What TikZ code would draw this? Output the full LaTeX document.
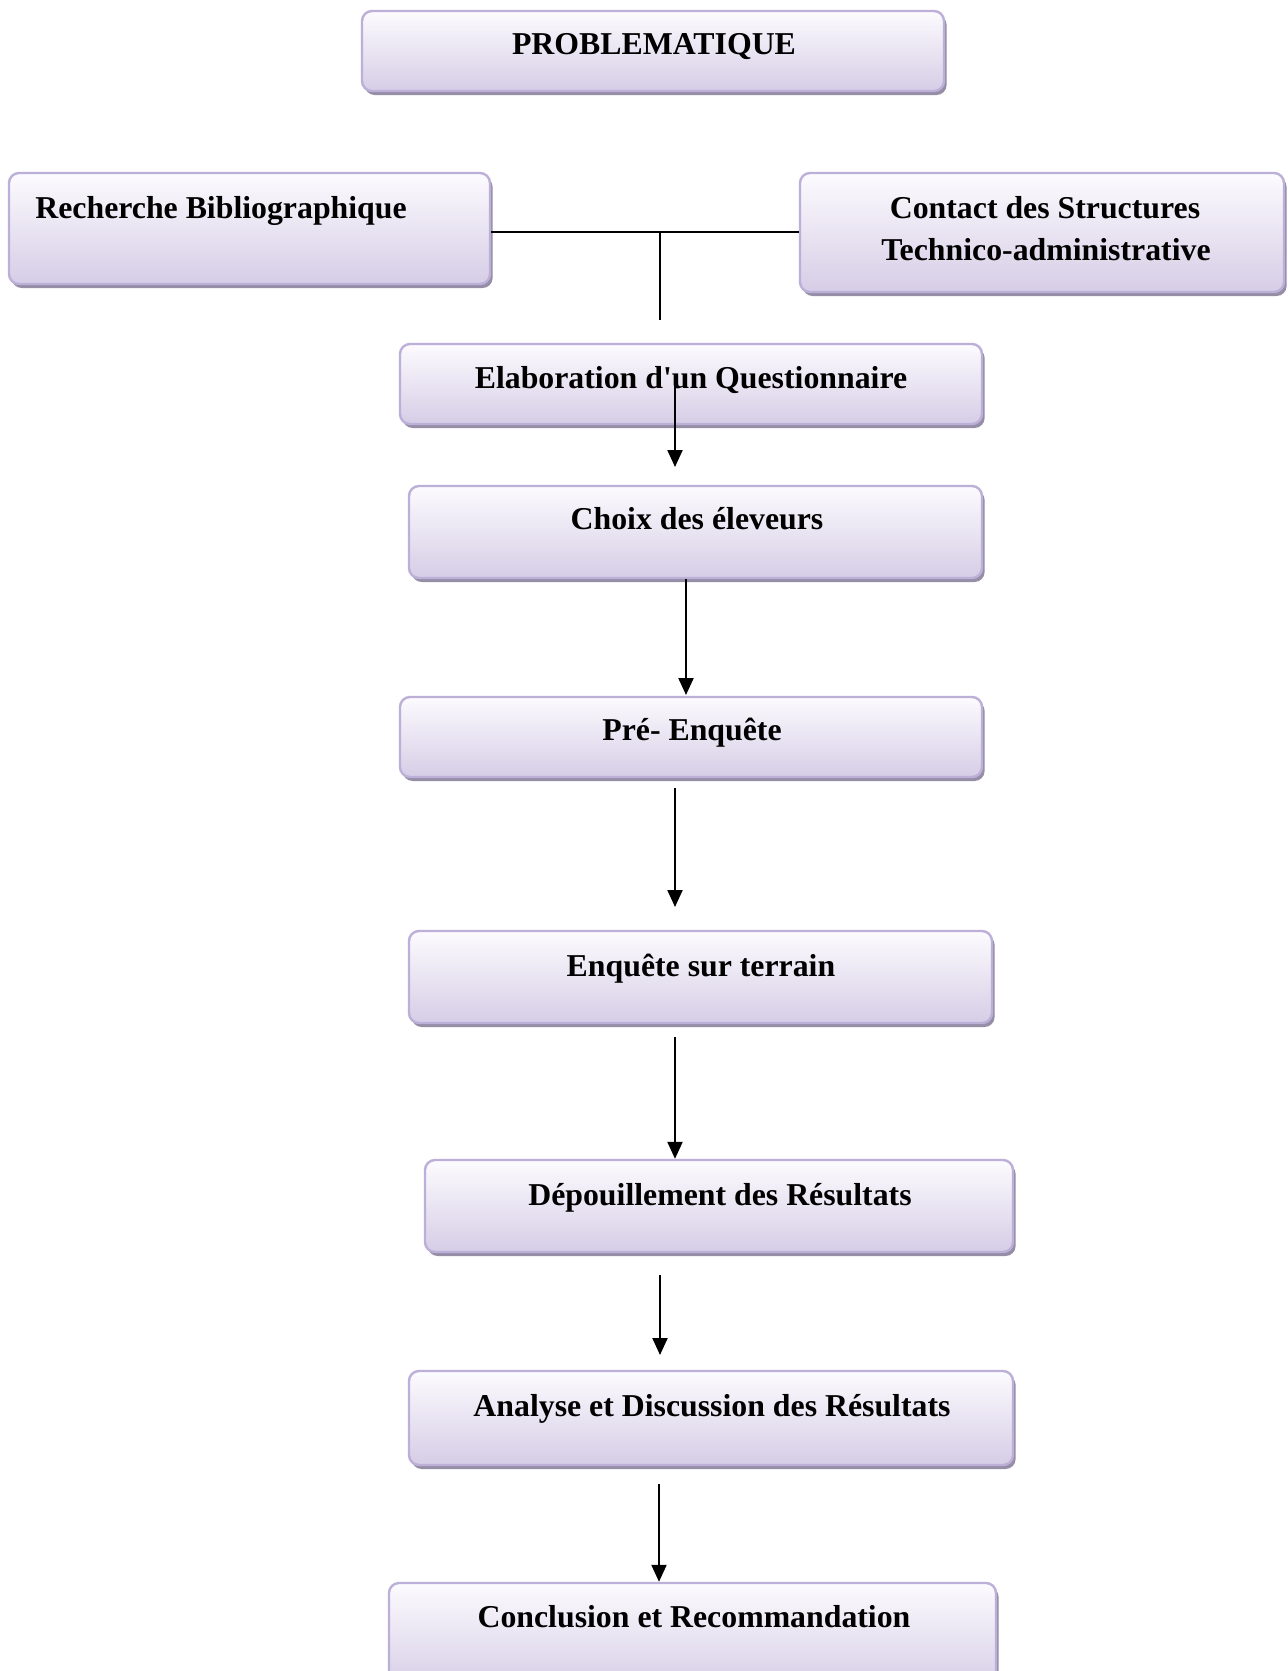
\documentclass[tikz,border=0pt]{standalone}
\usepackage{fontspec}
\setmainfont{Liberation Serif}[Ligatures=TeXOff]
\usetikzlibrary{arrows.meta,fit,shadows}
\definecolor{lavtop}{RGB}{252,251,254}
\definecolor{lavbot}{RGB}{214,205,230}
\definecolor{lavedge}{RGB}{188,175,216}
\definecolor{lavshadow}{RGB}{150,142,166}
\tikzset{
  box/.style={rectangle, rounded corners=5pt, inner sep=0pt, draw=lavedge, line width=1.2pt,
    top color=lavtop, bottom color=lavbot,
    drop shadow={shadow xshift=1.3pt, shadow yshift=-2pt, fill=lavshadow, opacity=1}},
  txt/.style={font=\fontsize{15.9}{19}\selectfont\bfseries, inner sep=0pt, anchor=base},
  arr/.style={line width=1.1pt, -{Triangle[length=8.5pt,width=7.5pt]}},
  ln/.style={line width=0.9pt}
}
\begin{document}
\begin{tikzpicture}[x=0.5pt,y=-0.5pt]
\useasboundingbox (0,0) rectangle (1287,1671);
\clip (0,0) rectangle (1287,1671);
\fill[white] (0,0) rectangle (1287,1671);
% boxes
\node[box, fit={(362,11)(944,91)}] (prob) {};
\node[box, fit={(9,173)(490,284)}] (rech) {};
\node[box, fit={(800,173)(1284,292)}] (cont) {};
\node[box, fit={(400,344)(982,424)}] (elab) {};
\node[box, fit={(409,486)(982,578)}] (choix) {};
\node[box, fit={(400,697)(982,777)}] (pre) {};
\node[box, fit={(409,931)(992,1023)}] (enq) {};
\node[box, fit={(425,1160)(1013,1252)}] (dep) {};
\node[box, fit={(409,1371)(1013,1465)}] (ana) {};
\node[box, fit={(389,1583)(996,1690)}] (conc) {};
% texts
\node[txt] (tprob) at (654,54) {PROBLEMATIQUE};
\node[txt, anchor=base west] (trech) at (35,218) {Recherche Bibliographique};
\node[txt] (tcont1) at (1045,218) {Contact des Structures};
\node[txt] (tcont2) at (1046,260) {Technico-administrative};
\node[txt] (telab) at (691,388) {Elaboration d'un Questionnaire};
\node[txt] (tchoix) at (697,529) {Choix des éleveurs};
\node[txt] (tpre) at (692,740) {Pré- Enquête};
\node[txt] (tenq) at (701,976) {Enquête sur terrain};
\node[txt] (tdep) at (720,1205) {Dépouillement des Résultats};
\node[txt] (tana) at (712,1416) {Analyse et Discussion des Résultats};
\node[txt] (tconc) at (694,1627) {Conclusion et Recommandation};
% connectors
\coordinate (j) at (660,232);
\coordinate (jend) at (660,320);
\draw[ln] (rech.east |- j) -- (cont.west |- j);
\draw[ln] (j) -- (jend);
\coordinate (a1s) at (675,386);
\coordinate (a1e) at (675,467);
\draw[arr] (a1s) -- (a1e);
\draw[arr] (choix.south -| 686,0) -- (686,695);
\coordinate (a3s) at (675,788);
\coordinate (a3e) at (675,907);
\draw[arr] (a3s) -- (a3e);
\coordinate (a4s) at (675,1037);
\draw[arr] (a4s) -- (dep.north -| a4s);
\coordinate (a5s) at (660,1275);
\coordinate (a5e) at (660,1355);
\draw[arr] (a5s) -- (a5e);
\coordinate (a6s) at (659,1484);
\draw[arr] (a6s) -- (conc.north -| a6s);
\end{tikzpicture}
\end{document}
